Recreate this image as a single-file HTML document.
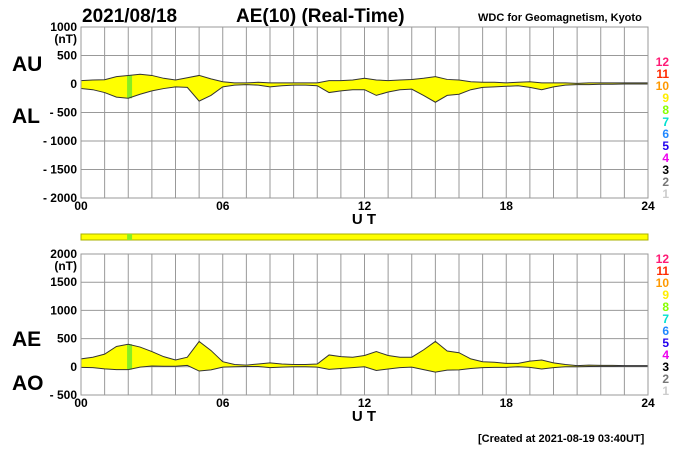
<!DOCTYPE html>
<html><head><meta charset="utf-8"><style>
body{margin:0;background:#fff;width:700px;height:450px;overflow:hidden}
svg{font-family:"Liberation Sans",sans-serif}
</style></head><body>
<svg width="700" height="450">
<text x="82" y="22" font-size="19" font-weight="bold">2021/08/18</text>
<text x="236" y="22" font-size="19" font-weight="bold">AE(10) (Real-Time)</text>
<text x="478" y="21" font-size="11" font-weight="bold">WDC for Geomagnetism, Kyoto</text>
<text x="12" y="71" font-size="21" font-weight="bold">AU</text>
<text x="12" y="123" font-size="21" font-weight="bold">AL</text>
<text x="12" y="346" font-size="21" font-weight="bold">AE</text>
<text x="12" y="390" font-size="21" font-weight="bold">AO</text>
<g id="top"></g>
<g id="band"></g>
<g id="bot"></g>
<text x="478" y="442" font-size="11" font-weight="bold">[Created at 2021-08-19 03:40UT]</text>
</svg>
<script>
const hours=[0,0.5,1,1.5,2,2.5,3,3.5,4,4.5,5,5.5,6,6.5,7,7.5,8,8.5,9,9.5,10,10.5,11,11.5,12,12.5,13,13.5,14,14.5,15,15.5,16,16.5,17,17.5,18,18.5,19,19.5,20,20.5,21,21.5,22,22.5,23,23.5,24];
const auValues=[60,70,75,130,150,170,150,100,70,110,150,90,40,20,20,30,20,20,20,20,20,60,60,70,100,70,60,70,80,100,130,80,70,40,30,30,20,30,40,20,20,20,10,20,20,20,20,20,20];
const alValues=[-80,-100,-150,-230,-250,-180,-120,-80,-50,-60,-300,-200,-50,-20,-10,-20,-50,-30,-20,-20,-30,-150,-120,-100,-100,-200,-140,-100,-90,-200,-320,-200,-180,-100,-60,-50,-40,-30,-60,-100,-50,-20,-10,-10,-5,-5,0,0,0];
const xTicks=["00","06","12","18","24"];
const topTicks=[1000,500,0,-500,-1000,-1500,-2000];
const botTicks=[2000,1500,1000,500,0,-500];
const legendNums=["12","11","10","9","8","7","6","5","4","3","2","1"];
const legendCols=["#ff1a75","#ff2a00","#ff9900","#ffee00","#88ff00","#00e0d0","#2288ff","#2200ee","#ee00ee","#000","#777","#ccc"];
const NS="http://www.w3.org/2000/svg";
const X0=81,X1=648;
const xs=h=>X0+(X1-X0)*h/24;
function mk(p,t,a){const e=document.createElementNS(NS,t);for(const k in a)e.setAttribute(k,a[k]);p.appendChild(e);return e;}
function panel(g,top,bot,vmax,vmin,ticks,upper,lower,name,legY){
  const ys=v=>top+(bot-top)*(vmax-v)/(vmax-vmin);
  for(let h=0;h<=24;h++){const l=mk(g,'line',{x1:xs(h),x2:xs(h),y1:top,y2:bot,stroke:'#999','stroke-width':1});
    
    }
  ticks.forEach(v=>{const l=mk(g,'line',{x1:X0,x2:X1,y1:ys(v),y2:ys(v),stroke:'#999','stroke-width':1});
    
    
    const t=mk(g,'text',{x:77,y:ys(v)+4,'font-size':12,'font-weight':'bold','text-anchor':'end'});
    t.textContent=(v<0?'- '+(-v):String(v));
    
    });
  const u=mk(g,'text',{x:77,y:ys(ticks[0])+16,'font-size':12,'font-weight':'bold','text-anchor':'end'});u.textContent='(nT)';
  
  
  let d='M'+hours.map((h,i)=>xs(h)+','+ys(upper[i])).join(' L')+' L'+hours.map((h,i)=>xs(h)+','+ys(lower[i])).reverse().join(' L')+'Z';
  const f=mk(g,'path',{d:d,fill:'#ffff00',stroke:'none'});
  
  
  const gr=mk(g,'rect',{x:xs(1.95),y:ys(upper[4]),width:5,height:ys(lower[4])-ys(upper[4]),fill:'#88ee22'});
  
  
  [upper,lower].forEach((arr,k)=>{const p=mk(g,'polyline',{points:hours.map((h,i)=>xs(h)+','+ys(arr[i])).join(' '),fill:'none',stroke:'#333','stroke-width':1});
    
    });
  mk(g,'rect',{x:X0,y:top,width:X1-X0,height:bot-top,fill:'none',stroke:'#999'});
  xTicks.forEach((s,i)=>{const t=mk(g,'text',{x:xs(i*6),y:bot+12,'font-size':12,'font-weight':'bold','text-anchor':'middle'});t.textContent=s;
    
    });
  const ut=mk(g,'text',{x:364,y:bot+26,'font-size':15,'font-weight':'bold','text-anchor':'middle'});ut.textContent='U T';
  
  
  legendNums.forEach((s,i)=>{const t=mk(g,'text',{x:669,y:legY+i*12,'font-size':12,'font-weight':'bold','text-anchor':'end',fill:legendCols[i]});t.textContent=s;
    
    });
}
const ae=auValues.map((v,i)=>v-alValues[i]);
const ao=auValues.map((v,i)=>(v+alValues[i])/2);
panel(document.getElementById('top'),27,198,1000,-2000,topTicks,auValues,alValues,'au-al',66);
panel(document.getElementById('bot'),254,395,2000,-500,botTicks,ae,ao,'ae-ao',263);
const b=document.getElementById('band');
const br=mk(b,'rect',{x:X0,y:234,width:X1-X0,height:6,fill:'#ffff00',stroke:'#aab000','stroke-width':1});


const bg=mk(b,'rect',{x:xs(1.95),y:234,width:5,height:6,fill:'#88ee22'});


</script>
</body></html>
